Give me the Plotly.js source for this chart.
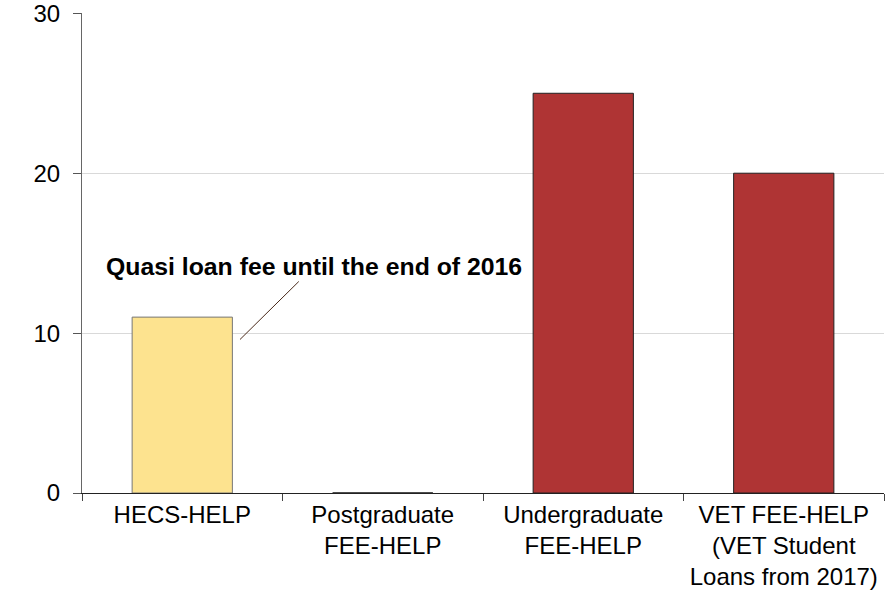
<!DOCTYPE html>
<html>
<head>
<meta charset="utf-8">
<script src="https://cdn.plot.ly/plotly-3.0.1.min.js"></script>
<style>html,body{margin:0;padding:0;background:#fff;}#chart{width:888px;height:595px;}</style>
</head>
<body>
<div id="chart"></div>
<script>
const categories = [
  "HECS-HELP",
  "Postgraduate<br>FEE-HELP",
  "Undergraduate<br>FEE-HELP",
  "VET FEE-HELP<br>(VET Student<br>Loans from 2017)"
];
const values = [11, 0, 25, 20];
const barColors = ["#FDE38F", "#AF3434", "#AF3434", "#AF3434"];
const barLineColors = ["#777777", "#111111", "#222222", "#222222"];
const yTicks = [0, 10, 20, 30];
const noteText = "<b>Quasi loan fee until the end of 2016</b>";

const font = "Arial, 'Liberation Sans', sans-serif";

const trace = {
  type: "bar",
  x: categories,
  y: values,
  marker: { color: barColors, line: { color: barLineColors, width: 1 } },
  hoverinfo: "none"
};

const layout = {
  width: 888, height: 595,
  margin: { l: 82, r: 4, t: 13, b: 102 },
  paper_bgcolor: "#fff", plot_bgcolor: "#fff",
  showlegend: false,
  bargap: 0.5,
  font: { family: font, size: 24, color: "#000" },
  xaxis: {
    type: "category",
    tickson: "boundaries",
    ticks: "outside", ticklen: 7, tickcolor: "#444", tickwidth: 1,
    showline: true, linecolor: "#222", linewidth: 1,
    showgrid: false, zeroline: false,
    tickfont: { family: font, size: 24, color: "#000" },
    fixedrange: true
  },
  yaxis: {
    range: [0, 30.02],
    tickvals: yTicks,
    ticktext: yTicks.map(String),
    ticks: "outside", ticklen: 8, tickcolor: "#555", tickwidth: 1,
    showline: true, linecolor: "#666", linewidth: 1,
    showgrid: true, gridcolor: "#d9d9d9", gridwidth: 1,
    zeroline: false,
    tickfont: { family: font, size: 24, color: "#000" },
    ticklabelstandoff: 8,
    ticklabeloverflow: "allow",
    fixedrange: true
  },
  annotations: [{
    x: 0.288, y: 9.6, xref: "x", yref: "y",
    text: noteText,
    showarrow: true, arrowhead: 0, arrowwidth: 1, arrowcolor: "#4a2a1a",
    ax: 74, ay: -73, standoff: 0,
    font: { family: font, size: 24.8, color: "#000" }
  }]
};

Plotly.newPlot("chart", [trace], layout, { staticPlot: true, displayModeBar: false });
</script>
</body>
</html>
